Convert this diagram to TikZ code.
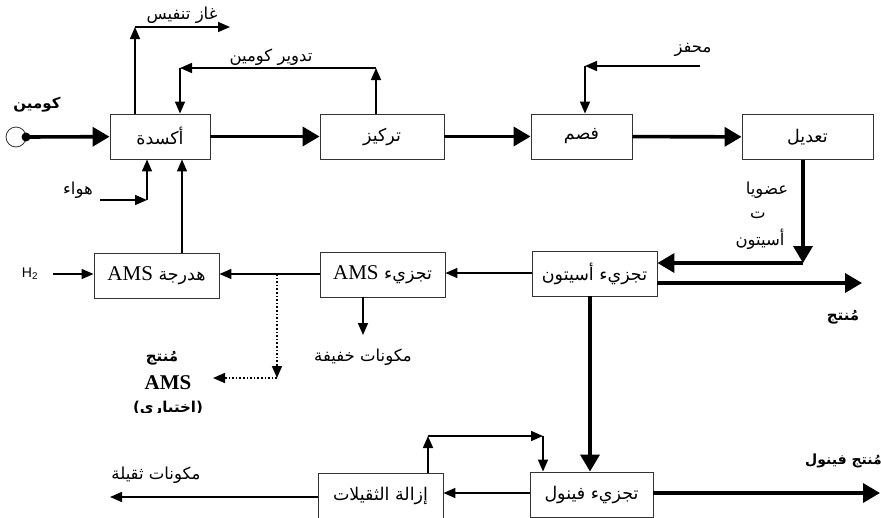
\documentclass[tikz,border=0pt]{standalone}
\usepackage{fontspec}
\setmainfont{Liberation Serif}
\setsansfont{Liberation Sans}
\newfontfamily\arabicfont[Script=Arabic]{DejaVu Sans}
\TeXXeTstate=1
\usetikzlibrary{arrows.meta}
\newcommand{\rl}[1]{\beginR #1\endR}
\newcommand{\ams}{{\rmfamily\fontsize{21}{23}\selectfont AMS}}

\begin{document}
\begin{tikzpicture}[x=1pt,y=-1pt,line join=miter]
  \tikzstyle{unit}=[draw=black!80,line width=0.9pt,minimum width=125pt,minimum height=45pt,inner sep=0pt,
                    font=\arabicfont\fontsize{17.5}{20}\selectfont]
  \tikzstyle{lbl}=[inner sep=0pt,font=\arabicfont\fontsize{16.5}{18}\selectfont]
  \tikzstyle{blbl}=[inner sep=0pt,font=\arabicfont\bfseries\fontsize{15}{17}\selectfont]
  \tikzstyle{feed}=[-{Triangle[length=12pt,width=10pt]},line width=1.6pt]
  \tikzstyle{main}=[-{Triangle[length=17pt,width=19pt]},line width=3.6pt]
  \tikzstyle{opt}=[feed,dotted]

  \useasboundingbox (0,0) rectangle (881,517);

  % process units
  \node[unit,minimum width=100pt] (ox)     at (160,136.5)   {\rl{أكسدة}};
  \node[unit,minimum width=124pt] (conc)   at (382,136.5)   {\rl{تركيز}};
  \node[unit,minimum width=101pt] (cleave) at (581.5,136.5) {\rl{فصم}};
  \node[unit,minimum width=131pt] (neut)   at (807.5,137)   {\rl{تعديل}};
  \node[unit] (acet)  at (594.5,273.5) {\rl{تجزيء أسيتون}};
  \node[unit] (amsf)  at (382.5,274.5) {\rl{تجزيء \ams}};
  \node[unit] (hyd)   at (156.5,275.5) {\rl{هدرجة \ams}};
  \node[unit,minimum width=123pt] (phen)  at (591.5,494.5) {\rl{تجزيء فينول}};
  \node[unit] (heavy) at (380.5,495.5) {\rl{إزالة الثقيلات}};

  % stream labels
  \node[blbl] (lcum)   at (37,105)  {\rl{كومين}};
  \node[lbl]  (lvent)  at (182,15)  {\rl{غاز تنفيس}};
  \node[lbl]  (lrec)   at (271,57)  {\rl{تدوير كومين}};
  \node[lbl]  (lair)   at (78,190)  {\rl{هواء}};
  \node[lbl]  (lcat)   at (693,50)  {\rl{محفز}};
  \node[lbl]  (lorg1)  at (767,190) {\rl{عضويا}};
  \node[lbl]  (lorg2)  at (758,215) {\rl{ت}};
  \node[lbl]  (lorg3)  at (760,239) {\rl{أسيتون}};
  \node[blbl] (lprod)  at (843,317) {\rl{مُنتج}};
  \node[lbl]  (llight) at (363,357) {\rl{مكونات خفيفة}};
  \node[blbl] (lams1)  at (162,358) {\rl{مُنتج}};
  \node[inner sep=0pt,font=\rmfamily\bfseries\fontsize{21}{23}\selectfont] (lams2) at (168,383) {AMS};
  \begin{scope}
    \clip (100,396) rectangle (240,412);
    \node[blbl] (lams3) at (168,409) {\rl{(اختياري)}};
  \end{scope}
  \node[inner sep=0pt,font=\sffamily\fontsize{14}{16}\selectfont] (lh2) at (30,274) {H\textsubscript{2}};
  \node[blbl,font=\arabicfont\bfseries\fontsize{14}{16}\selectfont,anchor=west] (lphen) at (805,461) {\rl{مُنتج فينول}};
  \node[lbl]  (lheavy) at (156,475) {\rl{مكونات ثقيلة}};

  % corners and free ends
  \coordinate (src) at (26,137);
  \coordinate (v1) at (135,27);   \coordinate (v2) at (230,27);
  \coordinate (r1) at (376,68);   \coordinate (r2) at (180,68);
  \coordinate (a0) at (100,200);  \coordinate (a1) at (147,200);
  \coordinate (c0) at (700,66);   \coordinate (c1) at (585,66);
  \coordinate (n1) at (803,263);
  \coordinate (p1) at (862,283);
  \coordinate (h0) at (53,274);
  \coordinate (d0) at (277,274);
  \coordinate (d1) at (277,378);  \coordinate (d2) at (213,378);
  \coordinate (l1) at (363,335);
  \coordinate (q1) at (428,436);  \coordinate (q2) at (543,436);
  \coordinate (f1) at (880,493);
  \coordinate (w1) at (110,497);

  % cumene feed
  \draw[line width=0.8pt,black!80] (16,137) circle (10pt);
  \fill (src) circle (4.5pt);
  \draw[main] (src) -- (ox);

  % main train
  \draw[main] (ox) -- (conc);
  \draw[main] (conc) -- (cleave);
  \draw[main] (cleave) -- (neut);
  \draw[main] (neut.south -| n1) -- (n1);
  \draw[main] (n1) -- (acet.east |- n1);
  \draw[main] (acet.east |- p1) -- (p1);
  \draw[main] (acet.south -| 590,0) -- (phen.north -| 590,0);
  \draw[main] (phen.east |- f1) -- (f1);

  % side streams
  \draw[feed] (ox.north -| v1) -- (v1);
  \draw[feed] (v1) -- (v2);
  \draw[feed] (conc.north -| r1) -- (r1);
  \draw[feed] (r1) -- (r2);
  \draw[feed] (r2) -- (ox.north -| r2);
  \draw[feed] (a0) -- (a1);
  \draw[feed] (a1) -- (ox.south -| a1);
  \draw[feed] (hyd.north -| 182,0) -- (ox.south -| 182,0);
  \draw[feed] (c0) -- (c1);
  \draw[feed] (c1) -- (cleave.north -| c1);
  \draw[feed] (acet.west |- 0,273) -- (amsf.east |- 0,273);
  \draw[feed] (amsf.west |- 0,274) -- (hyd.east |- 0,274);
  \draw[feed] (h0) -- (hyd.west |- h0);
  \draw[feed] (amsf.south -| l1) -- (l1);
  \draw[opt] (d0) -- (d1);
  \draw[opt] (d1) -- (d2);
  \draw[feed] (phen.west |- 0,493) -- (heavy.east |- 0,493);
  \draw[feed] (heavy.north -| q1) -- (q1);
  \draw[feed] (q1) -- (q2);
  \draw[feed] (q2) -- (phen.north -| q2);
  \draw[feed] (heavy.west |- w1) -- (w1);
\end{tikzpicture}
\end{document}
